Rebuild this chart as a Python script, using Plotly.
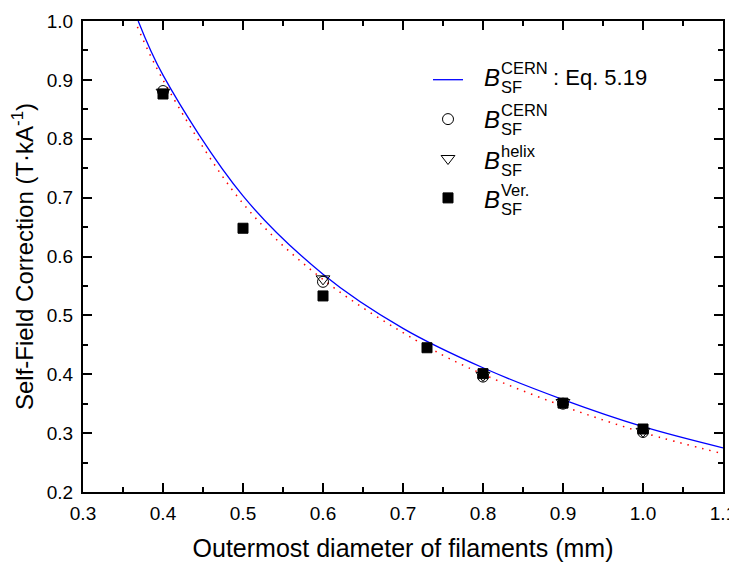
import plotly.graph_objects as go

# Measured points
d_pts = [0.4, 0.5, 0.6, 0.73, 0.8, 0.9, 1.0]
b_ver = [0.876, 0.648, 0.533, 0.445, 0.401, 0.351, 0.307]

d_cern = [0.4, 0.6, 0.8, 0.9, 1.0]
b_cern = [0.881, 0.557, 0.396, 0.350, 0.302]
b_helix = [0.879, 0.562, 0.398, 0.352, 0.303]

# Curves
d_eq = [0.369, 0.4, 0.5, 0.6, 0.7, 0.8, 0.9, 1.0, 1.1]
b_eq = [1.0, 0.908, 0.703, 0.570, 0.478, 0.411, 0.357, 0.311, 0.275]

d_red = [0.368, 0.4, 0.5, 0.6, 0.73, 0.8, 0.9, 1.0, 1.1]
b_red = [0.99, 0.900, 0.690, 0.561, 0.447, 0.400, 0.346, 0.301, 0.265]

x_ticks = [0.3, 0.4, 0.5, 0.6, 0.7, 0.8, 0.9, 1.0, 1.1]
y_ticks = [0.2, 0.3, 0.4, 0.5, 0.6, 0.7, 0.8, 0.9, 1.0]

legend_sups = ["CERN", "CERN", "helix", "Ver."]
legend_suffix = [": Eq. 5.19", "", "", ""]

FONT = "Liberation Sans, Arial, sans-serif"
# page body has an 8px margin; size the figure to fit the 737x563 window
OFF = 8
W, H = 737 - OFF, 563 - OFF
ML, MR, MT, MB = 83 - OFF, 14, 21 - OFF, 71
PW, PH = W - ML - MR, H - MT - MB


def px(xs):
    return (xs - OFF - ML) / PW


def py(ys):
    return (H - MB - (ys - OFF)) / PH


fig = go.Figure()
fig.add_trace(go.Scatter(x=d_red, y=b_red, mode="lines",
                         line=dict(color="red", width=1.5, dash="1.5px,6px", shape="spline"),
                         showlegend=False, hoverinfo="skip"))
fig.add_trace(go.Scatter(x=d_eq, y=b_eq, mode="lines", line=dict(color="#0000ff", width=1.3, shape="spline"),
                         name="\u00a0"))
fig.add_trace(go.Scatter(x=d_cern, y=b_cern, mode="markers",
                         marker=dict(symbol="circle-open", size=11, color="black", line=dict(width=1)),
                         name="\u00a0"))
fig.add_trace(go.Scatter(x=d_cern, y=b_helix, mode="markers",
                         marker=dict(symbol="triangle-down-open", size=12, color="black", line=dict(width=1)),
                         name="\u00a0"))
fig.add_trace(go.Scatter(x=d_pts, y=b_ver, mode="markers",
                         marker=dict(symbol="square", size=10, color="black", line=dict(width=1, color="black")),
                         name="\u00a0"))

# legend text with stacked super/subscripts
row_y = [78, 119.5, 160, 199]
ann = []
for i, yy in enumerate(row_y):
    ann.append(dict(x=px(484), y=py(yy), xref="paper", yref="paper", text="<i>B</i>", showarrow=False,
                    borderpad=0, borderwidth=0,
                    xanchor="left", yanchor="middle", font=dict(family=FONT, size=24, color="black")))
    ann.append(dict(x=px(501), y=py(yy), xref="paper", yref="paper",
                    text=f"<span style='font-size:16.5px'>{legend_sups[i]}</span><br>"
                         f"<span style='font-size:16.5px'>SF</span>",
                    showarrow=False, align="left", borderpad=0, borderwidth=0,
                    xanchor="left", yanchor="middle", font=dict(family=FONT, size=14.6, color="black")))
    if legend_suffix[i]:
        ann.append(dict(x=px(553), y=py(yy), xref="paper", yref="paper", text=legend_suffix[i], showarrow=False,
                        borderpad=0, borderwidth=0,
                        xanchor="left", yanchor="middle", font=dict(family=FONT, size=22, color="black")))

axis_common = dict(showline=True, linecolor="black", linewidth=2, mirror="allticks", ticks="inside",
                   ticklen=9, tickwidth=2, tickcolor="black", showgrid=False, zeroline=False,
                   automargin=False, tickfont=dict(family=FONT, size=19, color="black"))

fig.update_xaxes(range=[0.3, 1.1], tickvals=x_ticks, ticktext=[f"{v:.1f}" for v in x_ticks],
                 ticklabelstandoff=3,
                 minor=dict(ticks="inside", ticklen=5, tickwidth=2, tickcolor="black", dtick=0.05, showgrid=False),
                 title=dict(text="Outermost diameter of filaments (mm)", font=dict(family=FONT, size=25, color="black"),
                            standoff=17),
                 **axis_common)
fig.update_yaxes(range=[0.2, 1.0], tickvals=y_ticks, ticktext=[f"{v:.1f}" for v in y_ticks],
                 ticklabelstandoff=4,
                 minor=dict(ticks="inside", ticklen=5, tickwidth=2, tickcolor="black", dtick=0.05, showgrid=False),
                 title=dict(text="Self-Field Correction (T·kA<sup>-1</sup>)", font=dict(family=FONT, size=24, color="black"),
                            standoff=6),
                 **axis_common)

fig.update_layout(
    width=W, height=H,
    margin=dict(l=ML, r=MR, t=MT, b=MB),
    plot_bgcolor="white", paper_bgcolor="white",
    font=dict(family=FONT, color="black"),
    annotations=ann,
    legend=dict(x=px(428), y=py(55), xanchor="left", yanchor="top", bgcolor="rgba(0,0,0,0)",
                font=dict(family=FONT, size=28, color="black"), tracegroupgap=0),
)

fig.write_html("out.html")
